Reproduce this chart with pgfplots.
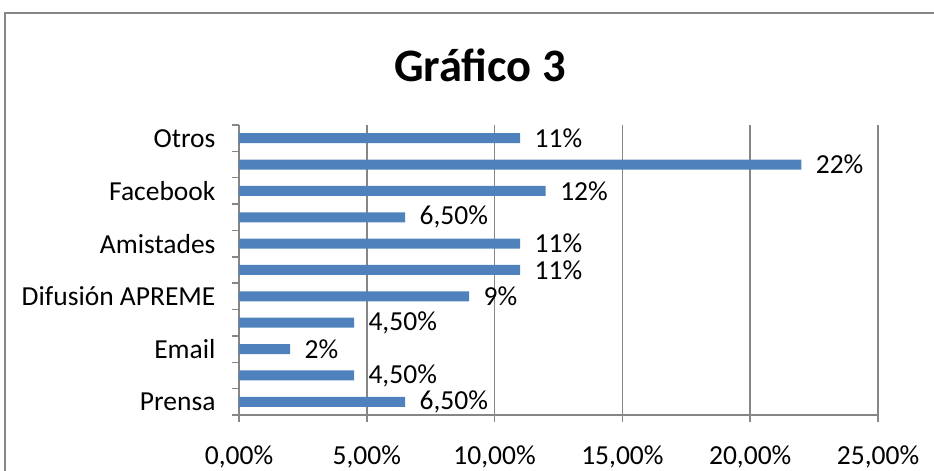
\documentclass[border=0pt]{standalone}
\usepackage{pgfplots}
\pgfplotsset{compat=1.18}
\usepackage{fontspec}
\setmainfont{Carlito}
\definecolor{barblue}{HTML}{4F81BD}
\definecolor{gridgray}{HTML}{868686}
\begin{document}
\begin{tikzpicture}[x=1pt,y=1pt]
\useasboundingbox (0,0) rectangle (934,471);
\clip (0,0) rectangle (934,471);
\draw[gridgray, line width=2pt] (5,-10) -- (5,458) -- (945,458);
\node[font=\bfseries\fontsize{46.5}{50}\selectfont, anchor=base] at (480,389) {Gráfico 3};
\begin{axis}[
  at={(239pt,56pt)}, anchor=south west,
  xbar, scale only axis, width=639pt, height=290pt,
  xmin=0, xmax=25, ymin=-0.5, ymax=10.5,
  axis x line*=bottom, axis y line*=left,
  axis line style={gridgray, line width=1.5pt, -},
  xtick={0,5,10,15,20,25},
  xticklabels={{0,00\%},{5,00\%},{10,00\%},{15,00\%},{20,00\%},{25,00\%}},
  xmajorgrids, major grid style={gridgray, line width=1.5pt},
  ytick={-0.5,0.5,...,10.5}, yticklabels={},
  extra y ticks={0,2,4,6,8,10},
  extra y tick labels={Prensa,Email,Difusión APREME,Amistades,Facebook,Otros},
  extra y tick style={major tick length=0pt, yticklabel style={anchor=east, xshift=-20pt}},
  tick style={gridgray, line width=1.5pt},
  major tick length=7pt, tick align=outside,
  tick label style={font=\fontsize{27.5}{30}\selectfont, black},
  xticklabel style={anchor=base, yshift=-42pt},
]
\addplot[fill=barblue, draw=none, bar width=10pt,
  nodes near coords, point meta=explicit symbolic,
  nodes near coords style={anchor=west, xshift=11pt, font=\fontsize{27.5}{30}\selectfont, black}]
  coordinates {
  (6.5,0) [6,50\%]
  (4.5,1) [4,50\%]
  (2,2) [2\%]
  (4.5,3) [4,50\%]
  (9,4) [9\%]
  (11,5) [11\%]
  (11,6) [11\%]
  (6.5,7) [6,50\%]
  (12,8) [12\%]
  (22,9) [22\%]
  (11,10) [11\%]
  };
\end{axis}
\end{tikzpicture}
\end{document}
